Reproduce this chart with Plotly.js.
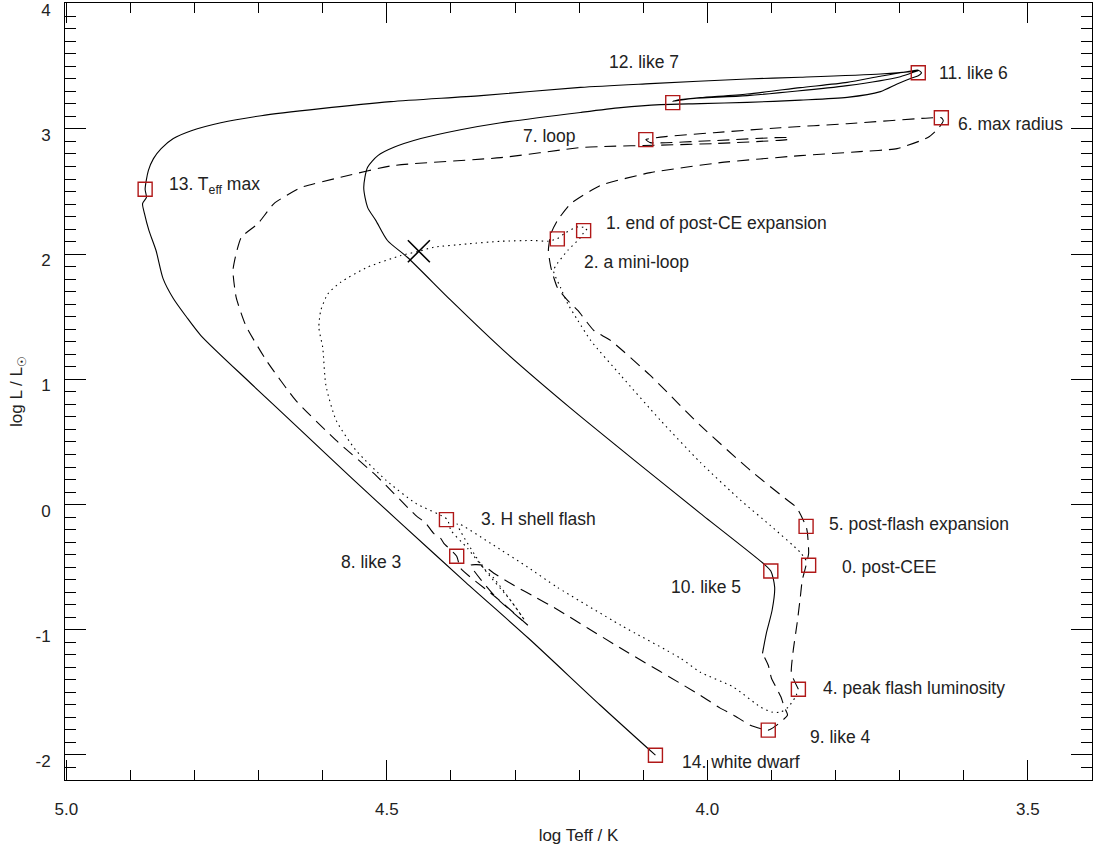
<!DOCTYPE html>
<html>
<head>
<meta charset="utf-8">
<script src="https://cdn.plot.ly/plotly-3.0.1.min.js"></script>
<style>html,body{margin:0;padding:0;background:#fff;}#chart{width:1101px;height:848px;}</style>
</head>
<body>
<div id="chart"></div>
<script>
// ---- Track 1: post-CE phase (dotted): 0 -> 1 -> 2 -> 3 -> 4
const dotX = [3.846,3.855,3.902,3.948,4.011,4.073,4.135,4.182,4.202,4.218,4.229,4.240,4.234,4.218,4.198,4.193,4.188,4.201,4.221,4.234,4.249,4.271,4.322,4.374,4.427,4.450,4.478,4.530,4.572,4.592,4.603,4.606,4.600,4.595,4.579,4.548,4.501,4.455,4.406,4.400,4.374,4.349,4.333,4.307,4.285,4.307,4.349,4.390,4.338,4.280,4.234,4.135,4.042,4.011,3.959,3.917,3.899,3.886,3.874,3.863,3.858];
const dotY = [-0.445,-0.382,-0.166,0.034,0.337,0.672,1.031,1.311,1.470,1.606,1.733,1.869,1.925,2.029,2.132,2.172,2.204,2.220,2.172,2.124,2.103,2.109,2.103,2.082,2.055,2.023,1.989,1.896,1.776,1.683,1.550,1.414,1.255,0.951,0.672,0.433,0.193,0.010,-0.118,-0.206,-0.350,-0.509,-0.589,-0.765,-0.924,-0.765,-0.509,-0.152,-0.310,-0.501,-0.661,-0.964,-1.227,-1.339,-1.459,-1.618,-1.658,-1.658,-1.618,-1.539,-1.483];

// ---- Track 2: flash phase (dashed): 4 -> 5 -> 6 -> 7 -> 8 -> 9
const dashX = [3.858,3.869,3.866,3.860,3.855,3.852,3.846,3.842,3.844,3.846,3.861,3.875,3.933,4.011,4.089,4.151,4.177,4.202,4.218,4.234,4.244,4.248,4.244,4.234,4.213,4.167,4.089,3.980,3.855,3.762,3.704,3.656,3.640,3.632,3.635,3.648,3.782,3.886,3.990,4.073,4.096,4.089,3.990,3.875,3.871,3.990,4.073,4.167,4.198,4.322,4.491,4.572,4.634,4.676,4.701,4.727,4.735,4.740,4.735,4.720,4.688,4.642,4.579,4.517,4.455,4.439,4.427,4.416,4.411,4.391,4.385,4.330,4.280,4.330,4.369,4.350,4.333,4.302,4.268,4.240,4.135,4.011,3.980,3.959,3.933,3.905,3.894,3.875,3.880,3.885,3.892,3.900,3.905,3.914];
const dashY = [-1.475,-1.347,-1.164,-0.948,-0.741,-0.605,-0.485,-0.389,-0.222,-0.174,-0.022,0.034,0.273,0.632,1.031,1.311,1.390,1.550,1.630,1.733,1.893,2.029,2.164,2.268,2.404,2.548,2.651,2.731,2.787,2.819,2.843,2.931,3.002,3.066,3.090,3.090,3.042,3.010,2.970,2.935,2.915,2.891,2.907,2.931,2.919,2.883,2.871,2.859,2.851,2.771,2.707,2.614,2.532,2.404,2.244,2.135,2.005,1.869,1.654,1.430,1.151,0.832,0.512,0.233,-0.086,-0.150,-0.230,-0.270,-0.310,-0.413,-0.509,-0.740,-0.964,-0.740,-0.485,-0.485,-0.549,-0.645,-0.741,-0.820,-1.148,-1.523,-1.626,-1.682,-1.762,-1.802,-1.770,-1.682,-1.618,-1.539,-1.467,-1.387,-1.283,-1.188];

// ---- Track 3: final phase (solid): 9/10 -> 11 -> 12 -> 13 -> 14
const solX = [3.914,3.908,3.899,3.895,3.901,3.913,4.011,4.104,4.213,4.318,4.400,4.468,4.499,4.517,4.530,4.536,4.530,4.514,4.489,4.447,4.385,4.322,4.198,4.135,4.073,4.011,3.938,3.855,3.782,3.730,3.704,3.680,3.671,3.666,3.671,3.680,3.730,3.782,3.855,3.938,4.011,4.042,4.054,4.026,3.938,3.782,3.699,3.676,3.671,3.679,3.730,3.855,3.938,4.089,4.198,4.353,4.494,4.603,4.696,4.759,4.805,4.833,4.852,4.864,4.872,4.877,4.875,4.881,4.878,4.871,4.860,4.849,4.833,4.813,4.790,4.712,4.634,4.556,4.478,4.377,4.279,4.167,4.081];
const solY = [-1.188,-1.028,-0.844,-0.661,-0.531,-0.469,-0.070,0.313,0.768,1.231,1.630,1.975,2.109,2.268,2.374,2.532,2.694,2.787,2.853,2.923,2.994,3.050,3.132,3.170,3.194,3.202,3.212,3.230,3.252,3.298,3.359,3.409,3.425,3.449,3.469,3.465,3.421,3.372,3.330,3.279,3.250,3.234,3.222,3.242,3.266,3.346,3.417,3.457,3.465,3.460,3.439,3.413,3.399,3.362,3.332,3.266,3.218,3.162,3.106,3.050,2.986,2.923,2.843,2.763,2.667,2.518,2.454,2.404,2.324,2.188,2.029,1.805,1.646,1.502,1.350,0.967,0.592,0.217,-0.150,-0.621,-1.068,-1.603,-2.002];

// ---- Marked evolutionary stages
const stageX = [3.842,4.193,4.234,4.407,3.858,3.846,3.635,4.096,4.391,3.905,3.901,3.671,4.054,4.877,4.081];
const stageY = [-0.485,2.188,2.122,-0.120,-1.475,-0.174,3.090,2.915,-0.413,-1.802,-0.531,3.449,3.210,2.518,-2.002];
const stageLabels = ["0. post-CEE","1. end of post-CE expansion","2. a mini-loop","3. H shell flash","4. peak flash luminosity","5. post-flash expansion","6. max radius","7. loop","8. like 3","9. like 4","10. like 5","11. like 6","12. like 7","13. T<sub>eff</sub> max","14. white dwarf"];

// cross marker
const crossX = [4.450];
const crossY = [2.023];

// axis ticks
const xTickVals = [5.0, 4.5, 4.0, 3.5];
const xTickText = ["5.0", "4.5", "4.0", "3.5"];
const yTickVals = [-2, -1, 0, 1, 2, 3, 4];
const yTickText = ["-2", "-1", "0", "1", "2", "3", "4"];

// label placement (pixel offsets from the marker)
const labAnchor = ["left","left","left","left","left","left","left","right","right","left","right","left","center","left","left"];
const labDX = [31,20,25,33,23,21,15,-68,-54,40,-28,19,-29,22,25];
const labDY = [-2,8,-23,1,1,2,-6,4,-6,-7,-16,0,41,4,-7];

const FONT = "Liberation Sans, Arial, Helvetica, sans-serif";
const TXT = "#222";

const traces = [
  {x: dotX, y: dotY, mode: "lines", line: {color: "black", width: 1.1, dash: "1.5px,4px", shape: "spline", smoothing: 0.6}, hoverinfo: "skip"},
  {x: dashX, y: dashY, mode: "lines", line: {color: "black", width: 1.1, dash: "12px,7px", shape: "spline", smoothing: 0.5}, hoverinfo: "skip"},
  {x: solX, y: solY, mode: "lines", line: {color: "black", width: 1.1, shape: "spline", smoothing: 0.7}, hoverinfo: "skip"},
  {x: stageX, y: stageY, mode: "markers", marker: {symbol: "square-open", size: 14, color: "#b01818", line: {width: 1.4, color: "#b01818"}}, hoverinfo: "skip"},
  {x: crossX, y: crossY, mode: "markers", marker: {symbol: "x-thin-open", size: 22, color: "black", line: {width: 1.6, color: "black"}}, hoverinfo: "skip"}
];

const annotations = stageLabels.map((t, i) => ({
  x: stageX[i], y: stageY[i], xref: "x", yref: "y", text: t, showarrow: false,
  xanchor: labAnchor[i], yanchor: "middle", xshift: labDX[i], yshift: labDY[i],
  font: {family: FONT, size: 17.5, color: TXT}
}));

const axisCommon = {
  showgrid: false, zeroline: false, showline: true, linecolor: "black", linewidth: 1,
  mirror: "ticks", ticks: "inside", tickcolor: "black", tickwidth: 1,
  tickfont: {family: FONT, size: 17, color: TXT}, ticklabeloverflow: "allow"
};

const layout = {
  width: 1101, height: 848,
  margin: {l: 65, r: 9, t: 3, b: 68},
  paper_bgcolor: "white", plot_bgcolor: "white",
  showlegend: false,
  xaxis: Object.assign({}, axisCommon, {
    range: [5.002, 3.4], autorange: false, tickmode: "array", tickvals: xTickVals, ticktext: xTickText, ticklen: 20,
    ticklabelstandoff: 14,
    minor: {tickmode: "linear", tick0: 3.5, dtick: 0.1, ticks: "inside", ticklen: 10, tickcolor: "black", tickwidth: 1},
    title: {text: "log Teff / K", font: {family: FONT, size: 17, color: TXT}, standoff: 10}
  }),
  yaxis: Object.assign({}, axisCommon, {
    range: [-2.2, 4.006], autorange: false, tickmode: "array", tickvals: yTickVals, ticktext: yTickText, ticklen: 21,
    ticklabelstandoff: 10, ticklabelshift: 6,
    minor: {tickmode: "linear", tick0: 0, dtick: 0.1, ticks: "inside", ticklen: 11, tickcolor: "black", tickwidth: 1},
    title: {text: "log L / L<sub>☉</sub>", font: {family: FONT, size: 17, color: TXT}, standoff: 8}
  }),
  annotations: annotations
};

Plotly.newPlot("chart", traces, layout, {displayModeBar: false, staticPlot: true});
</script>
</body>
</html>
